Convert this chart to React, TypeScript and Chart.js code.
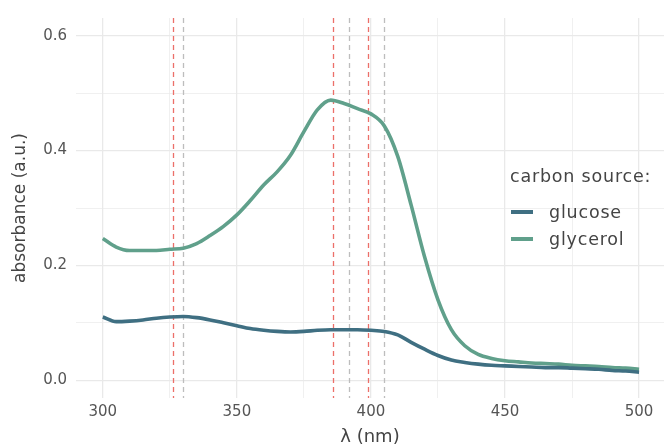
import React, { useEffect, useRef } from 'react';
import { Chart, registerables } from 'chart.js';
Chart.register(...registerables);

const wavelengths = [300, 305, 310, 315, 320, 325, 330, 335, 340, 345, 350, 355, 360, 365, 370, 375, 380, 385, 390, 395, 400, 405, 410, 415, 420, 425, 430, 435, 440, 445, 450, 455, 460, 465, 470, 475, 480, 485, 490, 495, 500];
const glucose = [0.110, 0.102, 0.103, 0.105, 0.108, 0.110, 0.111, 0.109, 0.105, 0.100, 0.095, 0.090, 0.087, 0.085, 0.084, 0.085, 0.087, 0.088, 0.088, 0.088, 0.087, 0.085, 0.079, 0.066, 0.054, 0.043, 0.035, 0.031, 0.028, 0.026, 0.025, 0.024, 0.023, 0.022, 0.022, 0.021, 0.020, 0.019, 0.017, 0.016, 0.014];
const glycerol = [0.247, 0.232, 0.226, 0.226, 0.226, 0.228, 0.230, 0.238, 0.252, 0.268, 0.288, 0.313, 0.340, 0.363, 0.392, 0.433, 0.471, 0.488, 0.482, 0.473, 0.464, 0.443, 0.390, 0.305, 0.215, 0.140, 0.088, 0.060, 0.045, 0.038, 0.034, 0.032, 0.030, 0.029, 0.028, 0.026, 0.025, 0.024, 0.022, 0.021, 0.019];
const redLines = [326, 386, 399];
const greyLines = [330, 392, 405];
const xTicks = [300, 325, 350, 375, 400, 425, 450, 475, 500];
const yTicks = [0, 0.1, 0.2, 0.3, 0.4, 0.5, 0.6];
const seriesNames = ['glucose', 'glycerol'];
const legendTitle = 'carbon source:';

const COLORS = ['#3f6f82', '#60a08b'];
const FONT = "'DejaVu Sans', sans-serif";

const vlinePlugin = {
  id: 'vlines',
  beforeDatasetsDraw(chart: any) {
    const { ctx, chartArea, scales } = chart;
    const x = scales.x;
    ctx.save();
    ctx.lineWidth = 1.3;
    ctx.setLineDash([5, 4]);
    const draw = (vals: number[], color: string) => {
      ctx.strokeStyle = color;
      vals.forEach((v) => {
        const px = Math.round(x.getPixelForValue(v)) + 0.5;
        ctx.beginPath();
        ctx.moveTo(px, chartArea.top);
        ctx.lineTo(px, chartArea.bottom);
        ctx.stroke();
      });
    };
    draw(greyLines, '#bdbdbd');
    draw(redLines, '#ec6f69');
    ctx.restore();
  },
};

export default function App() {
  const ref = useRef<HTMLCanvasElement>(null);
  useEffect(() => {
    document.body.style.margin = '0';
    const chart = new Chart(ref.current as HTMLCanvasElement, {
      type: 'line',
      data: {
        datasets: [glucose, glycerol].map((vals, i) => ({
          label: seriesNames[i],
          data: wavelengths.map((w, j) => ({ x: w, y: vals[j] })),
          borderColor: COLORS[i],
          backgroundColor: COLORS[i],
          borderWidth: 3.6,
          pointRadius: 0,
          cubicInterpolationMode: 'monotone' as const,
          borderCapStyle: 'butt' as const,
        })),
      },
      options: {
        responsive: false,
        animation: false,
        layout: { padding: { top: 14, left: 0, right: 0, bottom: 0 } },
        plugins: { legend: { display: false }, tooltip: { enabled: false } },
        scales: {
          x: {
            type: 'linear',
            min: 290,
            max: 509.3,
            afterBuildTicks: (s: any) => { s.ticks = xTicks.map((v) => ({ value: v })); },
            afterFit: (s: any) => { s.height = 50; },
            ticks: {
              autoSkip: false,
              maxRotation: 0,
              padding: 5,
              color: '#555555',
              font: { family: FONT, size: 15 },
              callback: (v: any, i: number) => (i % 2 === 0 ? String(v) : ''),
            },
            grid: {
              color: '#e9e9e9',
              lineWidth: (c: any) => (c.index % 2 === 0 ? 1.3 : 0.7),
              drawTicks: false,
            },
            border: { display: false },
            title: {
              display: true,
              text: 'λ (nm)',
              color: '#444444',
              font: { family: FONT, size: 18 },
              padding: { top: 0, bottom: 0 },
            },
          },
          y: {
            type: 'linear',
            min: -0.031,
            max: 0.631,
            afterBuildTicks: (s: any) => { s.ticks = yTicks.map((v) => ({ value: v })); },
            afterFit: (s: any) => { s.width = 76; },
            ticks: {
              autoSkip: false,
              padding: 9,
              color: '#555555',
              font: { family: FONT, size: 15 },
              callback: (v: any, i: number) => (i % 2 === 0 ? Number(v).toFixed(1) : ''),
            },
            grid: {
              color: '#e9e9e9',
              lineWidth: (c: any) => (c.index % 2 === 0 ? 1.3 : 0.7),
              drawTicks: false,
            },
            border: { display: false },
            title: {
              display: true,
              text: 'absorbance (a.u.)',
              color: '#444444',
              font: { family: FONT, size: 17 },
              padding: { top: 10, bottom: 0 },
            },
          },
        },
      },
      plugins: [vlinePlugin],
    });
    return () => chart.destroy();
  }, []);

  return (
    <div style={{ position: 'absolute', left: 0, top: 0, width: 664, height: 448, background: '#fff' }}>
      <canvas ref={ref} width={664} height={448} style={{ display: 'block' }} />
      <div style={{ position: 'absolute', left: 510, top: 166, fontFamily: FONT, color: '#444444', fontSize: 17.5, letterSpacing: 0.8, lineHeight: '20px' }}>
        <div style={{ whiteSpace: 'nowrap' }}>{legendTitle}</div>
        {seriesNames.map((n, i) => (
          <div key={n} style={{ display: 'flex', alignItems: 'center', height: 27, marginTop: i === 0 ? 12 : 0 }}>
            <span style={{ display: 'inline-block', width: 22, height: 4, background: COLORS[i], marginLeft: 1, marginRight: 16 }} />
            <span>{n}</span>
          </div>
        ))}
      </div>
    </div>
  );
}
